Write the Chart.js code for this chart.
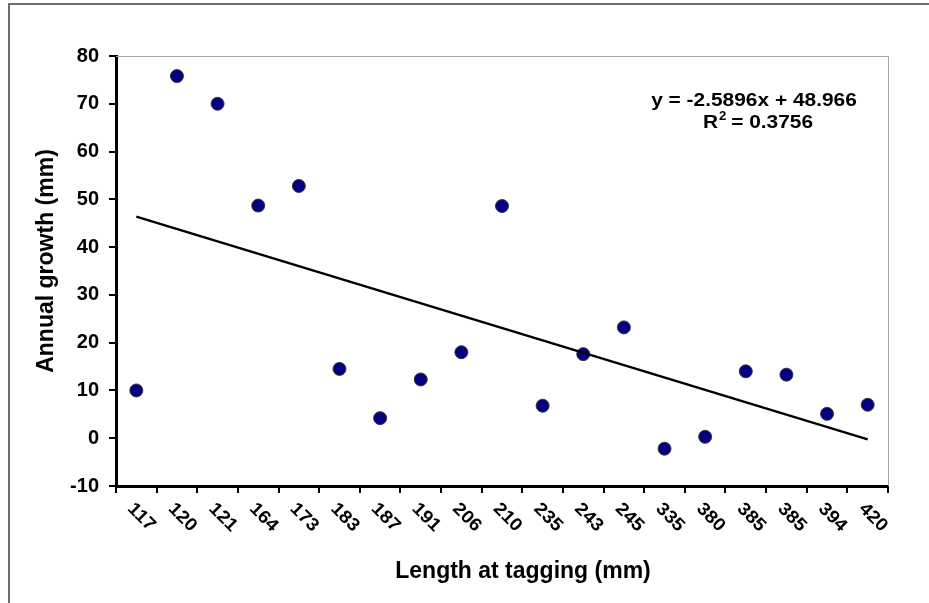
<!DOCTYPE html>
<html>
<head>
<meta charset="utf-8">
<script src="https://cdn.jsdelivr.net/npm/chart.js@4"></script>
<style>
  html, body { margin: 0; padding: 0; background: #ffffff; }
  #c { display: block; }
</style>
</head>
<body>
<canvas id="c" width="929" height="603"></canvas>
<script>
// Length at tagging (mm), one category per fish
const lengthLabels = ['117', '120', '121', '164', '173', '183', '187', '191', '206', '210',
                      '235', '243', '245', '335', '380', '385', '385', '394', '420'];
// Annual growth (mm)
const annualGrowth = [10.0, 75.8, 70.0, 48.7, 52.8, 14.5, 4.2, 12.3, 18.0, 48.6,
                      6.8, 17.6, 23.2, -2.2, 0.3, 14.0, 13.3, 5.1, 7.0];
// Linear trend fitted over the category index (1..n)
const trendSlope = -2.5896;
const trendIntercept = 48.966;
const trendR2 = 0.3756;
const yTicks = [-10, 0, 10, 20, 30, 40, 50, 60, 70, 80];

const FONT = '"Liberation Sans", Arial, sans-serif';

// trend line: endpoints only, gap spanned
const trendData = lengthLabels.map(() => null);
trendData[0] = trendSlope * 1 + trendIntercept;
trendData[lengthLabels.length - 1] = trendSlope * lengthLabels.length + trendIntercept;

// draw text slightly widened horizontally
function wideText(ctx, text, x, y, sx) {
  ctx.save();
  ctx.translate(x, y);
  ctx.scale(sx, 1);
  ctx.fillText(text, 0, 0);
  ctx.restore();
}

const decor = {
  id: 'decor',
  beforeDraw(chart) {
    const ctx = chart.ctx;
    ctx.save();
    ctx.fillStyle = '#ffffff';
    ctx.fillRect(0, 0, chart.width, chart.height);
    // outer frame
    ctx.strokeStyle = '#6e6e6e';
    ctx.lineWidth = 2;
    ctx.beginPath();
    ctx.moveTo(9, chart.height + 5);
    ctx.lineTo(9, 4);
    ctx.lineTo(chart.width + 5, 4);
    ctx.stroke();
    ctx.restore();
  },
  beforeDatasetsDraw(chart) {
    const ctx = chart.ctx;
    const a = chart.chartArea;
    ctx.save();
    ctx.strokeStyle = '#a6a6a6';
    ctx.lineWidth = 1;
    ctx.beginPath();
    ctx.moveTo(a.left, a.top + 0.5);
    ctx.lineTo(a.right + 0.5, a.top + 0.5);
    ctx.lineTo(a.right + 0.5, a.bottom);
    ctx.stroke();
    ctx.restore();
  },
  afterDraw(chart) {
    const ctx = chart.ctx;
    const xs = chart.scales.x;
    const a = chart.chartArea;
    ctx.save();
    ctx.fillStyle = '#000000';
    // rotated category labels
    ctx.font = 'bold 18px ' + FONT;
    ctx.textAlign = 'left';
    ctx.textBaseline = 'middle';
    lengthLabels.forEach((lab, i) => {
      const x = xs.getPixelForValue(i);
      ctx.save();
      ctx.translate(x - 6, a.bottom + 20);
      ctx.rotate(Math.PI / 4);
      ctx.scale(1.08, 1);
      ctx.fillText(lab, 0, 0);
      ctx.restore();
    });
    // axis titles
    ctx.font = 'bold 23px ' + FONT;
    ctx.textAlign = 'center';
    ctx.textBaseline = 'middle';
    ctx.fillText('Length at tagging (mm)', 523, 572);
    ctx.save();
    ctx.translate(47, 261);
    ctx.rotate(-Math.PI / 2);
    ctx.fillText('Annual growth (mm)', 0, 0);
    ctx.restore();
    // trend equation
    const sx = 1.1;
    ctx.font = 'bold 19px ' + FONT;
    const eq = 'y = ' + trendSlope + 'x + ' + trendIntercept;
    wideText(ctx, eq, 754, 101, sx);
    const p1 = 'R', p2 = '2', p3 = ' = ' + trendR2;
    const w1 = ctx.measureText(p1).width * sx;
    const w3 = ctx.measureText(p3).width * sx;
    ctx.font = 'bold 12px ' + FONT;
    const w2 = ctx.measureText(p2).width * sx;
    const left = 758 - (w1 + w2 + w3) / 2;
    ctx.textAlign = 'left';
    ctx.font = 'bold 19px ' + FONT;
    wideText(ctx, p1, left, 123, sx);
    ctx.font = 'bold 12px ' + FONT;
    wideText(ctx, p2, left + w1 + 1, 117, sx);
    ctx.font = 'bold 19px ' + FONT;
    wideText(ctx, p3, left + w1 + w2, 123, sx);
    ctx.restore();
  }
};

new Chart(document.getElementById('c'), {
  type: 'line',
  data: {
    labels: lengthLabels,
    datasets: [
      {
        label: 'Trend',
        data: trendData,
        spanGaps: true,
        borderColor: '#000000',
        borderWidth: 2.5,
        pointRadius: 0,
        fill: false,
        order: 0
      },
      {
        label: 'Annual growth',
        data: annualGrowth,
        showLine: false,
        pointRadius: 6.5,
        pointBackgroundColor: '#000080',
        pointBorderColor: '#3a3a3a',
        pointBorderWidth: 1,
        order: 1
      }
    ]
  },
  options: {
    responsive: false,
    animation: false,
    events: [],
    layout: { padding: { left: 0, top: 56, right: 41, bottom: 0 } },
    plugins: { legend: { display: false }, tooltip: { enabled: false } },
    scales: {
      x: {
        type: 'category',
        offset: true,
        grid: {
          offset: true,
          drawOnChartArea: false,
          drawTicks: true,
          tickLength: 7,
          color: '#000000',
          lineWidth: 2
        },
        border: { display: true, color: '#000000', width: 3 },
        ticks: { display: false },
        afterFit(s) { s.height = 117; }
      },
      y: {
        min: -10,
        max: 80,
        afterBuildTicks(s) { s.ticks = yTicks.map(v => ({ value: v })); },
        grid: {
          drawOnChartArea: false,
          drawTicks: true,
          tickLength: 7,
          color: '#000000',
          lineWidth: 2
        },
        border: { display: true, color: '#000000', width: 3 },
        ticks: {
          color: '#000000',
          padding: 10,
          font: { family: FONT, size: 20, weight: 'bold' }
        },
        afterFit(s) { s.width = 116; }
      }
    }
  },
  plugins: [decor]
});
</script>
</body>
</html>
